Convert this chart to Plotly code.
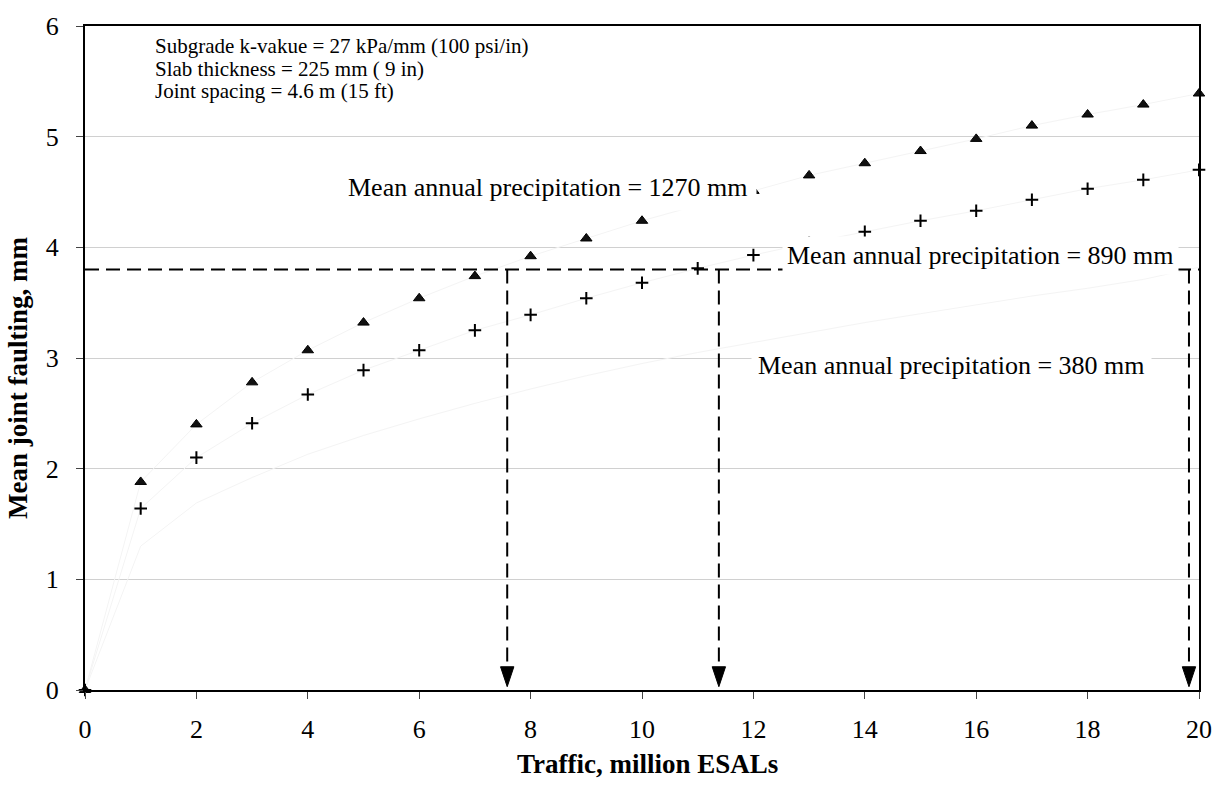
import plotly.graph_objects as go

# ---------------- data ----------------
traffic = list(range(21))  # million ESALs
fault_1270 = [0, 1.88, 2.40, 2.78, 3.07, 3.32, 3.54, 3.74, 3.92, 4.08, 4.24,
              4.38, 4.51, 4.65, 4.76, 4.87, 4.98, 5.10, 5.20, 5.29, 5.39]
fault_890 = [0, 1.64, 2.10, 2.41, 2.67, 2.89, 3.07, 3.25, 3.39, 3.54, 3.68,
             3.81, 3.93, 4.04, 4.14, 4.24, 4.33, 4.43, 4.53, 4.61, 4.70]
fault_380 = [0, 1.30, 1.69, 1.92, 2.13, 2.30, 2.45, 2.59, 2.72, 2.84, 2.95,
             3.05, 3.14, 3.23, 3.32, 3.40, 3.48, 3.56, 3.63, 3.71, 3.82]

threshold = 3.8
traffic_at_threshold = [7.58, 11.38, 19.82]

x_ticks = [0, 2, 4, 6, 8, 10, 12, 14, 16, 18, 20]
y_ticks = [0, 1, 2, 3, 4, 5, 6]

info_lines = ["Subgrade k-vakue = 27 kPa/mm (100 psi/in)",
              "Slab thickness = 225 mm ( 9 in)",
              "Joint spacing = 4.6 m (15 ft)"]
series_labels = ["Mean annual precipitation = 1270 mm",
                 "Mean annual precipitation = 890 mm",
                 "Mean annual precipitation = 380 mm"]

FONT = "Liberation Serif, Times New Roman, serif"

fig = go.Figure()

# faint connecting lines
for ys in (fault_1270, fault_890, fault_380):
    fig.add_trace(go.Scatter(x=traffic, y=ys, mode="lines",
                             line=dict(color="#f4f4f4", width=1),
                             hoverinfo="skip", showlegend=False))

# markers
fig.add_trace(go.Scatter(x=traffic, y=fault_1270, mode="markers",
                         marker=dict(symbol="triangle-up", size=10, color="#111111",
                                     line=dict(color="black", width=1)),
                         cliponaxis=False, showlegend=False))
fig.add_trace(go.Scatter(x=traffic, y=fault_890, mode="markers",
                         marker=dict(symbol="cross-thin", size=9,
                                     line=dict(color="black", width=2)),
                         cliponaxis=False, showlegend=False))

DASH = "14px,7px"
# horizontal dashed threshold line
fig.add_trace(go.Scatter(x=[0, 20], y=[threshold, threshold], mode="lines",
                         line=dict(color="black", width=2, dash=DASH),
                         hoverinfo="skip", showlegend=False, cliponaxis=False))

# vertical dashed arrows
head_h = 0.18
head_w = 0.12
for xv in traffic_at_threshold:
    fig.add_trace(go.Scatter(x=[xv, xv], y=[threshold, head_h + 0.03], mode="lines",
                             line=dict(color="black", width=2, dash=DASH),
                             hoverinfo="skip", showlegend=False))
    fig.add_trace(go.Scatter(x=[xv - head_w, xv + head_w, xv, xv - head_w],
                             y=[head_h + 0.03, head_h + 0.03, 0.03, head_h + 0.03],
                             mode="lines", fill="toself", fillcolor="black",
                             line=dict(color="black", width=1),
                             hoverinfo="skip", showlegend=False))

annotations = []
# info text (three lines)
for txt, yv in zip(info_lines, [5.82, 5.615, 5.41]):
    annotations.append(dict(x=1.22, y=yv, xref="x", yref="y", text=txt,
                            showarrow=False, xanchor="left", yanchor="middle",
                            font=dict(family=FONT, size=21, color="black")))

label_pos = [(8.32, 4.54), (16.07, 3.925), (15.55, 2.93)]
label_pad = [8, 4, 6]
for txt, (xv, yv), pad in zip(series_labels, label_pos, label_pad):
    annotations.append(dict(x=xv, y=yv, xref="x", yref="y", text=txt,
                            showarrow=False, xanchor="center", yanchor="middle",
                            bgcolor="white", borderpad=pad,
                            font=dict(family=FONT, size=26, color="black")))

# axis titles
annotations.append(dict(x=0.505, y=-0.111, xref="paper", yref="paper",
                        text="<b>Traffic, million ESALs</b>", showarrow=False,
                        xanchor="center", yanchor="middle",
                        font=dict(family=FONT, size=27, color="black")))
annotations.append(dict(x=-0.06, y=0.47, xref="paper", yref="paper",
                        text="<b>Mean joint faulting, mm</b>", showarrow=False,
                        textangle=-90, xanchor="center", yanchor="middle",
                        font=dict(family=FONT, size=27, color="black")))

fig.update_layout(
    width=1224, height=788,
    margin=dict(l=85, r=23, t=15, b=98),
    paper_bgcolor="white", plot_bgcolor="white",
    showlegend=False,
    annotations=annotations,
    font=dict(family=FONT, size=26, color="black"),
    xaxis=dict(range=[0, 20], tickvals=x_ticks, ticktext=[str(v) for v in x_ticks],
               showgrid=False, zeroline=False,
               showline=True, linecolor="black", linewidth=2, mirror=True,
               ticks="outside", ticklen=7, tickcolor="#444444", tickwidth=1,
               ticklabelstandoff=8,
               tickfont=dict(family=FONT, size=26, color="black")),
    yaxis=dict(range=[0, 6], tickvals=y_ticks, ticktext=[str(v) for v in y_ticks],
               showgrid=True, gridcolor="#d0d0d0", gridwidth=1, zeroline=False,
               showline=True, linecolor="black", linewidth=2, mirror=True,
               ticks="outside", ticklen=7, tickcolor="#444444", tickwidth=1,
               ticklabelstandoff=12,
               tickfont=dict(family=FONT, size=26, color="black")),
)

fig.write_html("out.html")
